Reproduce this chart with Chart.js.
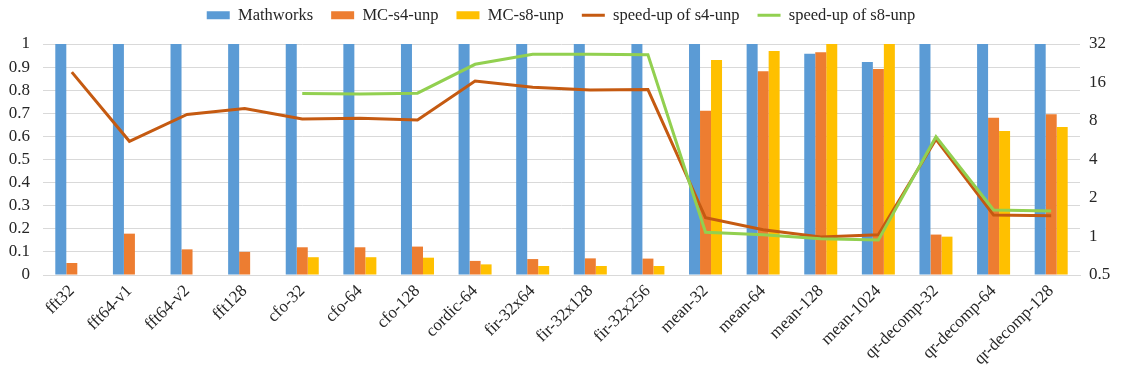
<!DOCTYPE html>
<html>
<head>
<meta charset="utf-8">
<script src="https://cdn.jsdelivr.net/npm/chart.js@4/dist/chart.umd.min.js"></script>
<style>
  html, body { margin: 0; padding: 0; background: #fff; }
  #wrap { width: 1122px; height: 380px; }
</style>
</head>
<body>
<div id="wrap"><canvas id="chart" width="1122" height="380"></canvas></div>
<script>
// benchmark names on the x axis
const categories = ['fft32', 'fft64-v1', 'fft64-v2', 'fft128', 'cfo-32', 'cfo-64', 'cfo-128', 'cordic-64',
    'fir-32x64', 'fir-32x128', 'fir-32x256', 'mean-32', 'mean-64', 'mean-128', 'mean-1024',
    'qr-decomp-32', 'qr-decomp-64', 'qr-decomp-128'];

// normalised values (left axis)
const mathworks = [1, 1, 1, 1, 1, 1, 1, 1, 1, 1, 1, 1, 1, 0.958, 0.922, 1, 1, 1];
const mcS4 = [0.052, 0.179, 0.111, 0.10, 0.12, 0.12, 0.123, 0.061, 0.069, 0.072, 0.071, 0.711, 0.882, 0.964, 0.892, 0.175, 0.681, 0.696];
const mcS8 = [null, null, null, null, 0.077, 0.077, 0.075, 0.046, 0.039, 0.039, 0.039, 0.931, 0.970, 1, 1, 0.166, 0.623, 0.641];

// speed-ups (right axis, log2)
const speedupS4 = [19.3, 5.55, 9.0, 10.0, 8.29, 8.4, 8.15, 16.4, 14.7, 14.0, 14.1, 1.40, 1.13, 0.99, 1.03, 5.75, 1.47, 1.45];
const speedupS8 = [null, null, null, null, 13.1, 13.0, 13.2, 22.2, 26.6, 26.6, 26.4, 1.08, 1.03, 0.96, 0.94, 6.03, 1.61, 1.58];

const speedTicks = [0.5, 1, 2, 4, 8, 16, 32];

const font = "'Liberation Serif', 'Times New Roman', serif";
const textColor = '#262626';
const gridColor = '#D9D9D9';

// fixed legend band so the plot starts where the original does
const legendBand = {
    id: 'legendBand',
    beforeInit(chart) {
        const fit = chart.legend.fit;
        chart.legend.fit = function () {
            fit.call(this);
            this.height = 55;
        };
    }
};

const barSet = (label, data, color) => ({
    type: 'bar',
    label,
    data,
    backgroundColor: color,
    borderWidth: 0,
    yAxisID: 'y',
    order: 1,
    pointStyle: 'rect',
    categoryPercentage: 0.573,
    barPercentage: 1
});

const lineSet = (label, data, color, order) => ({
    type: 'line',
    label,
    data,
    borderColor: color,
    backgroundColor: color,
    borderWidth: 3,
    pointRadius: 0,
    pointStyle: 'line',
    tension: 0,
    yAxisID: 'y1',
    order
});

new Chart(document.getElementById('chart'), {
    data: {
        labels: categories,
        datasets: [
            barSet('Mathworks', mathworks, '#5B9BD5'),
            barSet('MC-s4-unp', mcS4, '#ED7D31'),
            barSet('MC-s8-unp', mcS8, '#FFC000'),
            lineSet('speed-up of s4-unp', speedupS4, '#C55A11', -1),
            lineSet('speed-up of s8-unp', speedupS8, '#92D050', -2)
        ]
    },
    options: {
        responsive: false,
        animation: false,
        layout: { padding: { top: -11, left: 0, right: 0, bottom: 0 } },
        plugins: {
            tooltip: { enabled: false },
            legend: {
                position: 'top',
                labels: {
                    usePointStyle: true,
                    pointStyleWidth: 23,
                    boxHeight: 8,
                    padding: 18,
                    color: textColor,
                    font: { family: font, size: 16.5 },
                    sort: (a, b) => a.datasetIndex - b.datasetIndex
                }
            }
        },
        scales: {
            x: {
                grid: { display: false, drawTicks: false },
                border: { display: true, color: gridColor, width: 1 },
                ticks: {
                    color: textColor,
                    font: { family: font, size: 17 },
                    maxRotation: 45,
                    minRotation: 45,
                    autoSkip: false,
                    padding: 6
                },
                afterFit: (scale) => { scale.height = 105; }
            },
            y: {
                position: 'left',
                min: 0,
                max: 1,
                grid: { color: gridColor, lineWidth: 1, drawTicks: false },
                border: { display: false },
                ticks: {
                    stepSize: 0.1,
                    autoSkip: false,
                    color: textColor,
                    font: { family: font, size: 17 },
                    padding: 13,
                    callback: (v) => String(Math.round(v * 10) / 10)
                },
                afterFit: (scale) => { scale.width = 43; }
            },
            y1: {
                type: 'logarithmic',
                position: 'right',
                min: 0.5,
                max: 32,
                grid: { display: false, drawTicks: false },
                border: { display: false },
                ticks: {
                    autoSkip: false,
                    color: textColor,
                    font: { family: font, size: 17 },
                    padding: 9,
                    callback: (v) => String(v)
                },
                afterBuildTicks: (scale) => {
                    scale.ticks = speedTicks.map(v => ({ value: v }));
                },
                afterFit: (scale) => { scale.width = 42; }
            }
        }
    },
    plugins: [legendBand]
});
</script>
</body>
</html>
